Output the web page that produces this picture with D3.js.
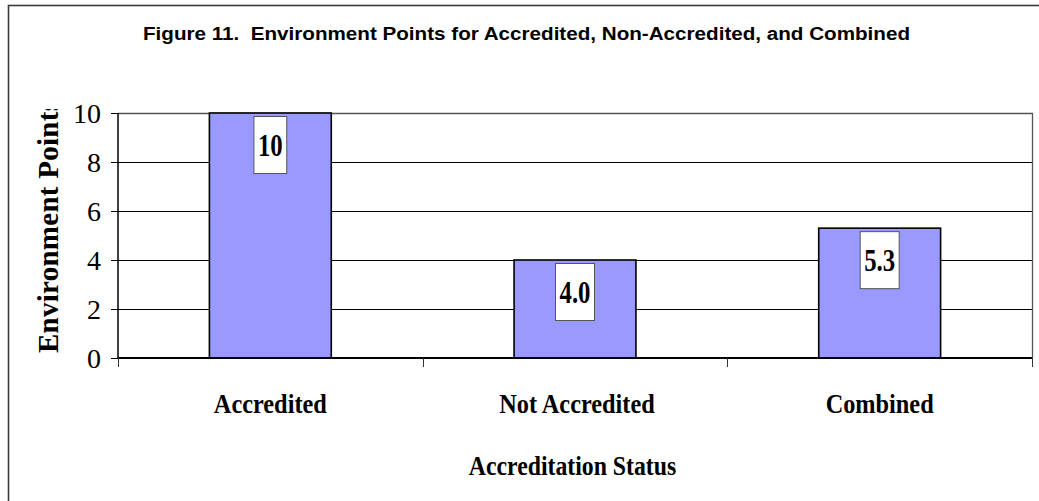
<!DOCTYPE html>
<html>
<head>
<meta charset="utf-8">
<script src="https://cdn.jsdelivr.net/npm/d3@7"></script>
<style>
  html, body { margin: 0; padding: 0; background: #fff; }
  svg { display: block; }
</style>
</head>
<body>
<svg id="chart" width="1039" height="501"></svg>
<script>
// ---- data ----
const categories = ["Accredited", "Not Accredited", "Combined"];
const values = [10, 4.0, 5.3];
const valueLabels = ["10", "4.0", "5.3"];
const yTicks = [0, 2, 4, 6, 8, 10];
const titleText = "Figure 11.  Environment Points for Accredited, Non-Accredited, and Combined";
const yTitle = "Environment Points";
const xTitle = "Accreditation Status";

const svg = d3.select("#chart");
const W = 1039, H = 501;
const plot = { left: 118, right: 1032, top: 113, bottom: 358 };

const x = d3.scaleBand().domain(categories)
  .range([plot.left, plot.right]).paddingInner(0.6).paddingOuter(0.3);
const y = d3.scaleLinear().domain([0, 10]).range([plot.bottom, plot.top]);

// helper: squeeze text horizontally by ratio
function squeeze(sel, ratio) {
  sel.each(function() {
    const len = this.getComputedTextLength();
    d3.select(this).attr("textLength", len * ratio).attr("lengthAdjust", "spacingAndGlyphs");
  });
}

// outer frame
svg.append("rect").attr("x", 8.5).attr("y", 5.5).attr("width", 1100).attr("height", 600)
  .attr("fill", "#fff").attr("stroke", "#3a3a3a").attr("stroke-width", 1.6);

// title
const t = svg.append("text").attr("x", 526.5).attr("y", 40)
  .attr("text-anchor", "middle")
  .attr("font-family", "'Liberation Sans', Arial, sans-serif")
  .attr("font-weight", "bold").attr("font-size", 17.5)
  .style("white-space", "pre")
  .attr("fill", "#000")
  .text(titleText);
t.attr("textLength", 767).attr("lengthAdjust", "spacingAndGlyphs");

// plot background
svg.append("rect").attr("x", plot.left).attr("y", plot.top)
  .attr("width", plot.right - plot.left).attr("height", plot.bottom - plot.top)
  .attr("fill", "#fff");

// gridlines
svg.append("g").selectAll("line").data(yTicks.filter(v => v > 0 && v < 10)).join("line")
  .attr("x1", plot.left).attr("x2", plot.right)
  .attr("y1", d => Math.round(y(d)) + 0.5).attr("y2", d => Math.round(y(d)) + 0.5)
  .attr("stroke", "#000").attr("stroke-width", 1);

// plot border top & right (gray)
svg.append("path")
  .attr("d", `M${plot.left},${plot.top + 0.5}H${plot.right + 0.5}V${plot.bottom}`)
  .attr("fill", "none").attr("stroke", "#555").attr("stroke-width", 1.3);

// bars
svg.append("g").selectAll("rect").data(values).join("rect")
  .attr("x", (d, i) => x(categories[i]))
  .attr("y", d => y(d))
  .attr("width", x.bandwidth())
  .attr("height", d => y(0) - y(d))
  .attr("fill", "#9999ff")
  .attr("stroke", "#000").attr("stroke-width", 1.6);

// value labels with boxes
const lab = svg.append("g").selectAll("g").data(values).join("g");
lab.each(function(d, i) {
  const g = d3.select(this);
  const cx = x(categories[i]) + x.bandwidth() / 2;
  const top = y(d) + 3.5;
  const boxH = 57;
  const box = g.append("rect");
  const txt = g.append("text")
    .attr("x", cx).attr("y", top + boxH / 2 + 10.5)
    .attr("text-anchor", "middle")
    .attr("font-family", "'Liberation Serif', 'Times New Roman', serif")
    .attr("font-weight", "bold").attr("font-size", 31)
    .attr("fill", "#000")
    .text(valueLabels[i]);
  const len = txt.node().getComputedTextLength() * 0.8;
  txt.attr("textLength", len).attr("lengthAdjust", "spacingAndGlyphs");
  const bw = len + 8;
  box.attr("x", cx - bw / 2).attr("y", top).attr("width", bw).attr("height", boxH)
    .attr("fill", "#fff").attr("stroke", "#555").attr("stroke-width", 1);
});

// y axis
const yAxis = svg.append("g").attr("transform", `translate(${plot.left},0)`)
  .call(d3.axisLeft(y).tickValues(yTicks).tickSize(7).tickPadding(10).tickFormat(d3.format("d")));
yAxis.select(".domain").attr("stroke", "#000").attr("stroke-width", 1.5)
  .attr("d", `M0,${plot.top}V${plot.bottom}`);
yAxis.selectAll(".tick line").attr("stroke", "#000").attr("stroke-width", 1);
yAxis.selectAll(".tick text")
  .attr("font-family", "'Liberation Serif', 'Times New Roman', serif")
  .attr("font-size", 28).attr("fill", "#000").attr("dy", "0.34em");

// x axis baseline
svg.append("line").attr("x1", plot.left).attr("x2", plot.right)
  .attr("y1", y(0)).attr("y2", y(0))
  .attr("stroke", "#000").attr("stroke-width", 1.8);

// x ticks at category boundaries
const gap = (x.step() - x.bandwidth()) / 2;
const bounds = categories.map(c => x(c) - gap).concat([x(categories[categories.length - 1]) + x.bandwidth() + gap]);
svg.append("g").selectAll("line").data(bounds).join("line")
  .attr("x1", d => Math.round(d) + 0.5).attr("x2", d => Math.round(d) + 0.5)
  .attr("y1", y(0)).attr("y2", y(0) + 9)
  .attr("stroke", "#333").attr("stroke-width", 1);

// x category labels
svg.append("g").selectAll("text").data(categories).join("text")
  .attr("x", d => x(d) + x.bandwidth() / 2 + (d === "Not Accredited" ? 2 : 0))
  .attr("y", 413)
  .attr("text-anchor", "middle")
  .attr("font-family", "'Liberation Serif', 'Times New Roman', serif")
  .attr("font-weight", "bold").attr("font-size", 27)
  .attr("fill", "#000")
  .text(d => d)
  .call(squeeze, 0.9);

// x title
svg.append("text").attr("x", 572.5).attr("y", 475)
  .attr("text-anchor", "middle")
  .attr("font-family", "'Liberation Serif', 'Times New Roman', serif")
  .attr("font-weight", "bold").attr("font-size", 27)
  .attr("fill", "#000")
  .text(xTitle)
  .call(squeeze, 0.88);

// y title (clipped at top)
svg.append("clipPath").attr("id", "ytclip")
  .append("rect").attr("x", 0).attr("y", 109).attr("width", plot.left).attr("height", H - 109);
svg.append("g").attr("clip-path", "url(#ytclip)")
  .append("text")
  .attr("transform", "translate(58,353) rotate(-90)")
  .attr("text-anchor", "start")
  .attr("font-family", "'Liberation Serif', 'Times New Roman', serif")
  .attr("font-weight", "bold").attr("font-size", 29)
  .attr("fill", "#000")
  .attr("textLength", 253).attr("lengthAdjust", "spacing")
  .text(yTitle);
</script>
</body>
</html>
